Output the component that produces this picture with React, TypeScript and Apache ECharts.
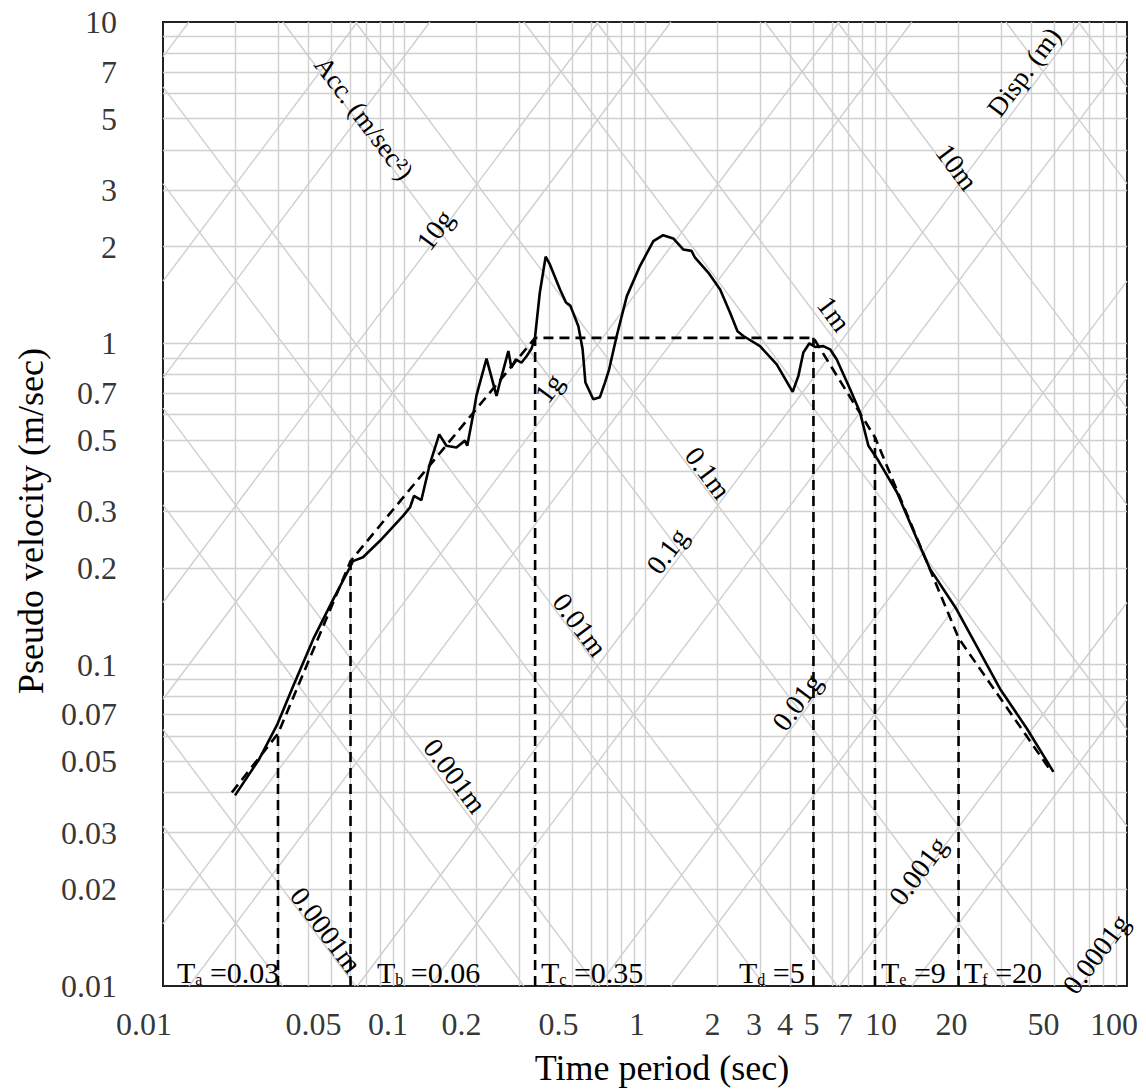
import React, { useEffect, useRef } from 'react';
import * as echarts from 'echarts';

// ---------------- data ----------------
const solidT = [
  0.0199, 0.0249, 0.0297, 0.0348, 0.0421, 0.0509, 0.0597, 0.0614, 0.0676, 0.0795,
  0.0993, 0.106, 0.110, 0.118, 0.128, 0.140, 0.150, 0.165, 0.179, 0.183,
  0.194, 0.200, 0.220, 0.242, 0.250, 0.271, 0.279, 0.291, 0.307, 0.322,
  0.337, 0.349, 0.366, 0.387, 0.403, 0.444, 0.47, 0.49, 0.529, 0.551,
  0.566, 0.61, 0.65, 0.682, 0.71, 0.763, 0.84, 0.953, 1.083, 1.19,
  1.31, 1.44, 1.56, 1.61, 1.83, 2.05, 2.25, 2.42, 2.56, 3.0,
  3.52, 4.10, 4.33, 4.54, 4.81, 5.08, 5.49, 5.86, 6.24, 7.1,
  7.8, 8.45, 9.15, 11.1, 13.8, 15.2, 19.6, 29.7, 38.4, 49.5,
];
const solidV = [
  0.0392, 0.0504, 0.0648, 0.0863, 0.1205, 0.160, 0.201, 0.210, 0.216, 0.243,
  0.291, 0.309, 0.335, 0.325, 0.421, 0.521, 0.480, 0.474, 0.498, 0.480,
  0.605, 0.690, 0.896, 0.686, 0.755, 0.946, 0.84, 0.892, 0.87, 0.91,
  0.958, 1.03, 1.437, 1.86, 1.76, 1.47, 1.34, 1.31, 1.13, 0.958,
  0.755, 0.67, 0.68, 0.755, 0.83, 1.054, 1.40, 1.74, 2.08, 2.17,
  2.12, 1.96, 1.94, 1.85, 1.66, 1.47, 1.25, 1.09, 1.054, 0.98,
  0.86, 0.706, 0.792, 0.936, 1.0, 0.974, 0.98, 0.958, 0.892, 0.72,
  0.61, 0.48, 0.44, 0.344, 0.235, 0.199, 0.149, 0.0842, 0.0633, 0.0464,
];
const envT = [0.0193, 0.03, 0.06, 0.35, 5, 9, 20, 48];
const envV = [0.040, 0.061, 0.21, 1.04, 1.04, 0.51, 0.121, 0.047];

const cornerT = [0.03, 0.06, 0.35, 5, 9, 20];
const cornerSub = ['a', 'b', 'c', 'd', 'e', 'f'];
const cornerText = ['0.03', '0.06', '0.35', '5', '9', '20'];

const xTickLabels = [0.01, 0.05, 0.1, 0.2, 0.5, 1, 2, 3, 4, 5, 7, 10, 20, 50, 100];
const yTickLabels = [10, 7, 5, 3, 2, 1, 0.7, 0.5, 0.3, 0.2, 0.1, 0.07, 0.05, 0.03, 0.02, 0.01];

const gridMultipliers = [1, 2, 3, 4, 5, 6, 7, 8, 9];
const accLinesG = [0.0001, 0.0005, 0.001, 0.005, 0.01, 0.05, 0.1, 0.5, 1, 5, 10, 50, 100, 500];
const dispLinesM = [0.00005, 0.0001, 0.0005, 0.001, 0.005, 0.01, 0.05, 0.1, 0.5, 1, 5, 10, 50, 100];

const accLabels = ['10g', '1g', '0.1g', '0.01g', '0.001g', '0.0001g'];
const dispLabels = ['10m', '1m', '0.1m', '0.01m', '0.001m', '0.0001m'];

// ---------------- layout / style ----------------
const W = 1146;
const H = 1091;
const GRID = { left: 163, top: 22, right: 19, bottom: 102 };
const FONT = '"Liberation Serif", "Times New Roman", serif';
const X_MIN = 0.01, X_MAX = 100, Y_MIN = 0.01, Y_MAX = 10;
const G_ACC = 9.81;

const accLabelPos = [[435, 230], [549, 388], [667, 551], [797, 702], [918, 871], [1096, 954]];
const dispLabelPos = [[957, 167], [834, 314], [708, 473], [580, 625], [455, 776], [326, 930]];
const tLabelLeft = [177, 377, 541, 739, 881, 964];
const tLabelY = 972;
const xLabelNudge = [-19, -18, -16, -15, -14, -8, -5, -6, -5, -2, -4, -5, -7, -11, -13];

function buildGridLines() {
  const lines: any[] = [];
  const lx0 = Math.log10(X_MIN), lx1 = Math.log10(X_MAX);
  const ly0 = Math.log10(Y_MIN), ly1 = Math.log10(Y_MAX);
  for (let e = Math.round(lx0); e < Math.round(lx1); e++) {
    for (const k of gridMultipliers) {
      const t = +(k * Math.pow(10, e)).toPrecision(6);
      if (t > X_MIN * 1.0001 && t < X_MAX * 0.9999) lines.push({ coords: [[t, Y_MIN], [t, Y_MAX]] });
    }
  }
  for (let e = Math.round(ly0); e < Math.round(ly1); e++) {
    for (const k of gridMultipliers) {
      const v = +(k * Math.pow(10, e)).toPrecision(6);
      if (v > Y_MIN * 1.0001 && v < Y_MAX * 0.9999) lines.push({ coords: [[X_MIN, v], [X_MAX, v]] });
    }
  }
  // constant acceleration: V = A T / (2 pi)
  for (const a of accLinesG) {
    const lc = Math.log10((a * G_ACC) / (2 * Math.PI));
    const x1 = Math.max(lx0, ly0 - lc);
    const x2 = Math.min(lx1, ly1 - lc);
    if (x2 > x1) lines.push({ coords: [[10 ** x1, 10 ** (x1 + lc)], [10 ** x2, 10 ** (x2 + lc)]] });
  }
  // constant displacement: V = 2 pi D / T
  for (const d of dispLinesM) {
    const lc = Math.log10(2 * Math.PI * d);
    const x1 = Math.max(lx0, lc - ly1);
    const x2 = Math.min(lx1, lc - ly0);
    if (x2 > x1) lines.push({ coords: [[10 ** x1, 10 ** (lc - x1)], [10 ** x2, 10 ** (lc - x2)]] });
  }
  return lines;
}

function buildOption(): any {
  const plotW = W - GRID.left - GRID.right;
  const plotH = H - GRID.top - GRID.bottom;
  const ang = Math.atan2(plotH / Math.log10(Y_MAX / Y_MIN), plotW / Math.log10(X_MAX / X_MIN));

  const txt = (text: string, x: number, y: number, rot: number, size = 28) => ({
    type: 'text',
    x,
    y,
    rotation: rot,
    silent: true,
    z: 10,
    style: {
      text,
      fontSize: size,
      fontFamily: FONT,
      fill: '#000',
      align: 'center',
      verticalAlign: 'middle',
      textAlign: 'center',
      textVerticalAlign: 'middle',
    },
  });

  const graphics: any[] = [];
  accLabels.forEach((s, i) => graphics.push(txt(s, accLabelPos[i][0], accLabelPos[i][1], ang)));
  dispLabels.forEach((s, i) => graphics.push(txt(s, dispLabelPos[i][0], dispLabelPos[i][1], -ang)));
  graphics.push(txt('Acc. (m/sec\u00B2)', 364, 118, -ang, 27));
  graphics.push(txt('Disp. (m)', 1024, 72, ang, 27));

  cornerT.forEach((_, i) => {
    graphics.push({
      type: 'text',
      x: tLabelLeft[i],
      y: tLabelY,
      z: 10,
      silent: true,
      style: {
        text: `{t|T}{s|${cornerSub[i]}}{t| =${cornerText[i]}}`,
        fontFamily: FONT,
        fill: '#000',
        align: 'left',
        verticalAlign: 'middle',
        textAlign: 'left',
        textVerticalAlign: 'middle',
        rich: {
          t: { fontSize: 30, lineHeight: 30, fontFamily: FONT, fill: '#000' },
          s: { fontSize: 16, lineHeight: 3, verticalAlign: 'bottom', fontFamily: FONT, fill: '#000' },
        },
      },
    });
  });

  const envAt = (t: number) => envV[envT.indexOf(t)];

  const series: any[] = [
    {
      type: 'lines',
      coordinateSystem: 'cartesian2d',
      polyline: false,
      silent: true,
      z: 1,
      lineStyle: { color: '#cfcfcf', width: 1.4, opacity: 1 },
      data: buildGridLines(),
    },
    ...cornerT.map((t) => ({
      type: 'line',
      silent: true,
      symbol: 'none',
      z: 3,
      data: [[t, Y_MIN], [t, envAt(t)]],
      lineStyle: { color: '#000', width: 2.6, type: [10, 6] },
    })),
    {
      type: 'line',
      name: 'Idealized',
      silent: true,
      symbol: 'none',
      z: 4,
      data: envT.map((t, i) => [t, envV[i]]),
      lineStyle: { color: '#000', width: 2.6, type: [10, 6] },
    },
    {
      type: 'line',
      name: 'Spectrum',
      silent: true,
      symbol: 'none',
      z: 5,
      data: solidT.map((t, i) => [t, solidV[i]]),
      lineStyle: { color: '#000', width: 2.6 },
    },
    {
      type: 'scatter',
      silent: true,
      clip: false,
      symbolSize: 0,
      z: 6,
      data: xTickLabels.map((t, i) => ({ value: [t, Y_MIN], label: { offset: [xLabelNudge[i], 0] } })),
      label: {
        show: true,
        position: 'bottom',
        distance: 22,
        formatter: (p: any) => String(p.value[0]),
        fontSize: 32,
        fontFamily: FONT,
        color: '#000',
      },
    },
    {
      type: 'scatter',
      silent: true,
      clip: false,
      symbolSize: 0,
      z: 6,
      data: yTickLabels.map((v) => [X_MIN, v]),
      label: {
        show: true,
        position: 'left',
        distance: 46,
        formatter: (p: any) => String(p.value[1]),
        fontSize: 32,
        fontFamily: FONT,
        color: '#000',
      },
    },
  ];

  return {
    animation: false,
    backgroundColor: '#fff',
    grid: {
      left: GRID.left,
      top: GRID.top,
      right: GRID.right,
      bottom: GRID.bottom,
      show: true,
      borderColor: '#222',
      borderWidth: 2,
      backgroundColor: 'transparent',
    },
    xAxis: {
      type: 'log',
      logBase: 10,
      min: X_MIN,
      max: X_MAX,
      axisLine: { show: false },
      axisTick: { show: false },
      axisLabel: { show: false },
      splitLine: { show: false },
      name: 'Time period (sec)',
      nameLocation: 'middle',
      nameGap: 64,
      nameTextStyle: { fontSize: 36, fontFamily: FONT, color: '#000', padding: [0, 0, 0, 34] },
    },
    yAxis: {
      type: 'log',
      logBase: 10,
      min: Y_MIN,
      max: Y_MAX,
      axisLine: { show: false },
      axisTick: { show: false },
      axisLabel: { show: false },
      splitLine: { show: false },
      name: 'Pseudo velocity (m/sec)',
      nameLocation: 'middle',
      nameGap: 114,
      nameRotate: 90,
      nameTextStyle: { fontSize: 36, fontFamily: FONT, color: '#000', padding: [0, 34, 0, 0] },
    },
    graphic: { elements: graphics },
    series,
  };
}

export default function App() {
  const ref = useRef<HTMLDivElement>(null);
  useEffect(() => {
    document.body.style.margin = '0';
    if (!ref.current) return;
    const chart = echarts.init(ref.current, undefined, { renderer: 'svg' });
    chart.setOption(buildOption());
    return () => chart.dispose();
  }, []);
  return <div ref={ref} style={{ width: W, height: H }} />;
}
